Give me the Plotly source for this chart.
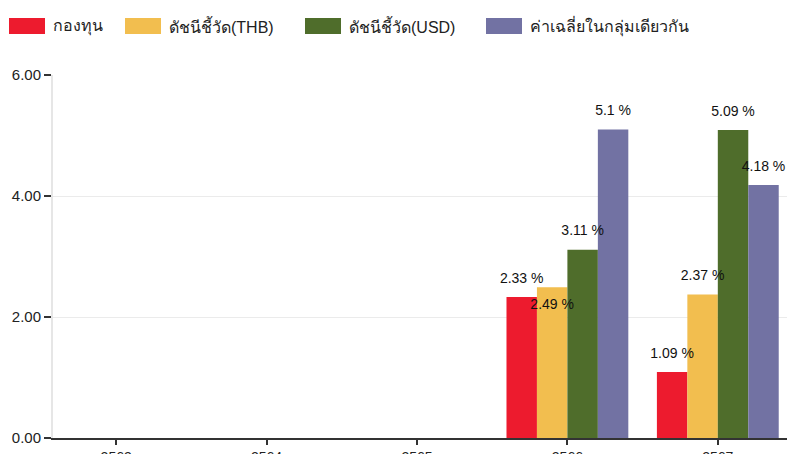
import plotly.graph_objects as go

years = ["2563", "2564", "2565", "2566", "2567"]
series_names = ["กองทุน", "ดัชนีชี้วัด(THB)", "ดัชนีชี้วัด(USD)", "ค่าเฉลี่ยในกลุ่มเดียวกัน"]
fund = [None, None, None, 2.33, 1.09]
bench_thb = [None, None, None, 2.49, 2.37]
bench_usd = [None, None, None, 3.11, 5.09]
peer_avg = [None, None, None, 5.10, 4.18]
y_ticks = [0, 2, 4, 6]

series_values = [fund, bench_thb, bench_usd, peer_avg]
colors = ["#ED1B2E", "#F2BE4F", "#4F6D2B", "#7272A3"]
# label placement style per series/point (above bar, or tucked below the top)
label_side = [
    ["top center"] * 5,
    ["top center", "top center", "top center", "bottom center", "top center"],
    ["top center"] * 5,
    ["top center"] * 5,
]

W, H = 787, 454
ML, MR, MT, MB = 53, 0, 75, 16
FONT = "Liberation Sans, Arial, sans-serif"

fig = go.Figure()
for i, (name, vals, col) in enumerate(zip(series_names, series_values, colors)):
    fig.add_trace(go.Bar(
        x=years, y=vals, name=name, marker=dict(color=col, line=dict(width=0)),
        offsetgroup=str(i), showlegend=False, hoverinfo="skip",
    ))
for i, (name, vals) in enumerate(zip(series_names, series_values)):
    labels = [None if v is None else f"{v:g} %" for v in vals]
    fig.add_trace(go.Scatter(
        x=years, y=vals, mode="markers+text", text=labels,
        textposition=label_side[i], offsetgroup=str(i),
        marker=dict(size=16, opacity=0), cliponaxis=False,
        textfont=dict(family=FONT, size=14, color="#111"),
        showlegend=False, hoverinfo="skip",
    ))

# custom legend (large swatches)
pw = W - ML - MR
ph = H - MT - MB
def px(x):
    return (x - ML) / pw
def py(y):
    return (H - MB - y) / ph

leg_rect_x = [9, 125, 305, 486]
shapes = []
annotations = []
for name, col, lx in zip(series_names, colors, leg_rect_x):
    shapes.append(dict(type="rect", xref="paper", yref="paper",
                       x0=px(lx), x1=px(lx + 36), y0=py(34), y1=py(18),
                       fillcolor=col, line=dict(width=0)))
    annotations.append(dict(xref="paper", yref="paper", x=px(lx + 42), y=py(26),
                            text=name, showarrow=False, xanchor="left", yanchor="middle",
                            font=dict(family=FONT, size=16, color="#222")))

fig.update_layout(
    width=W, height=H,
    margin=dict(l=ML, r=MR, t=MT, b=MB, pad=0, autoexpand=False),
    paper_bgcolor="white", plot_bgcolor="white",
    barmode="group", bargap=0.19, bargroupgap=0,
    scattermode="group", scattergap=0.19,
    showlegend=False, hovermode=False,
    shapes=shapes, annotations=annotations,
    font=dict(family=FONT, size=15, color="#222"),
    xaxis=dict(type="category", range=[-0.42, 4.46], showgrid=False, automargin=False,
               showline=True, linecolor="#333", linewidth=2,
               ticks="outside", ticklen=5, tickcolor="#333", tickwidth=2,
               tickfont=dict(size=14, color="#222"), zeroline=False),
    yaxis=dict(range=[0, 6], tickvals=y_ticks, tickformat=".2f", automargin=False,
               showgrid=True, gridcolor="#ebebeb", gridwidth=1,
               showline=True, linecolor="#e6e6e6", linewidth=2,
               ticks="outside", ticklen=7, tickcolor="#333", tickwidth=2,
               tickfont=dict(size=15, color="#222"), zeroline=False),
)

fig.write_html(
    "out.html",
    config={"displayModeBar": False, "staticPlot": True},
    post_script="document.body.style.margin='0';document.body.style.overflow='hidden';",
)
